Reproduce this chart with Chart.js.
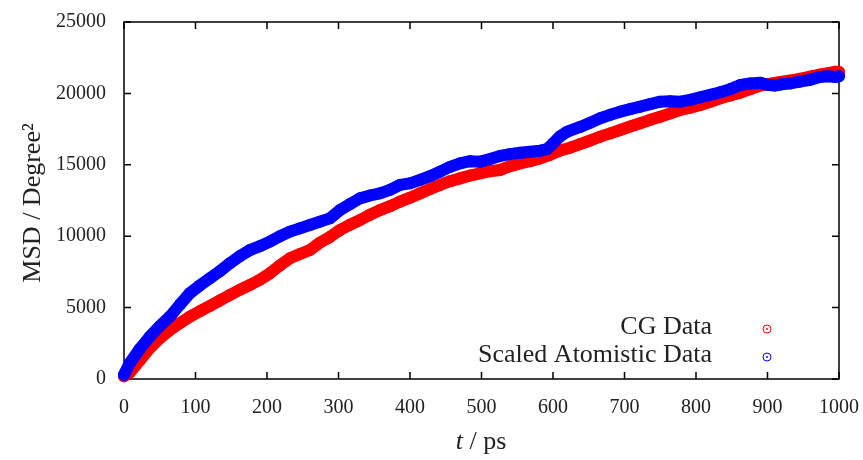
<!DOCTYPE html>
<html>
<head>
<meta charset="utf-8">
<script src="https://cdn.jsdelivr.net/npm/chart.js@4/dist/chart.umd.min.js"></script>
<style>
  html, body { margin: 0; padding: 0; background: #fff; }
  #wrap { width: 863px; height: 460px; }
</style>
</head>
<body>
<div id="wrap"><canvas id="msdChart" width="863" height="460"></canvas></div>
<script>
const FONT = '"Liberation Serif", "DejaVu Serif", serif';

// CG data (t in ps, MSD in degree^2)
const cgTime = [0, 8, 22, 36, 50, 64, 78, 92, 106, 120, 134, 148, 162, 176, 190, 204, 218, 232, 246, 260,
  274, 288, 302, 316, 330, 344, 358, 372, 386, 400, 414, 428, 442, 456, 470, 484, 498, 512, 526, 540,
  554, 568, 582, 596, 610, 624, 638, 652, 666, 680, 694, 708, 722, 736, 750, 764, 778, 792, 806, 820,
  834, 848, 862, 876, 890, 904, 918, 932, 945, 960, 973, 985, 995, 1000];
const cgMsd = [200, 450, 1300, 2150, 2850, 3430, 3900, 4360, 4750, 5110, 5500, 5880, 6250, 6580, 6950, 7400, 7950, 8450, 8750, 9030,
  9550, 9950, 10430, 10800, 11130, 11500, 11830, 12100, 12420, 12700, 13000, 13300, 13590, 13850, 14050, 14250, 14400, 14550, 14640, 14900,
  15100, 15250, 15450, 15700, 16000, 16200, 16450, 16700, 16970, 17200, 17440, 17680, 17910, 18150, 18370, 18600, 18840, 19000, 19190, 19420,
  19660, 19850, 20050, 20300, 20550, 20680, 20800, 20900, 21020, 21180, 21320, 21420, 21520, 21500];

// Scaled atomistic data
const atTime = [0, 8, 22, 36, 50, 64, 78, 92, 106, 120, 134, 148, 162, 176, 190, 204, 218, 232, 246, 260,
  274, 288, 302, 316, 330, 344, 358, 372, 386, 400, 414, 428, 442, 456, 470, 484, 498, 512, 526, 540,
  554, 568, 582, 592, 600, 610, 620, 638, 652, 666, 680, 694, 708, 722, 736, 750, 764, 778, 792, 806,
  820, 834, 848, 862, 876, 890, 900, 910, 918, 932, 945, 960, 973, 985, 995, 1000];
const atMsd = [300, 1100, 2100, 2960, 3700, 4360, 5200, 6000, 6550, 7050, 7550, 8100, 8600, 9030, 9300, 9620, 10000, 10320, 10550, 10780,
  11020, 11250, 11830, 12250, 12650, 12850, 13000, 13250, 13590, 13700, 13940, 14200, 14520, 14850, 15100, 15250, 15220, 15400, 15620, 15750,
  15850, 15920, 15990, 16100, 16500, 17000, 17320, 17650, 17950, 18260, 18500, 18720, 18900, 19070, 19250, 19420, 19450, 19420, 19550, 19730,
  19900, 20080, 20300, 20590, 20700, 20750, 20600, 20550, 20620, 20700, 20820, 20950, 21150, 21200, 21150, 21200];

const seriesLabels = ['CG Data', 'Scaled Atomistic Data'];
const seriesColors = ['#ff0000', '#0000ff'];

const xTicks = [0, 100, 200, 300, 400, 500, 600, 700, 800, 900, 1000];
const yTicks = [0, 5000, 10000, 15000, 20000, 25000];

function toPoints(xs, ys) {
  return xs.map((x, i) => ({ x: x, y: ys[i] }));
}

// frame with inward ticks on all four sides, like gnuplot
const framePlugin = {
  id: 'frame',
  beforeDatasetsDraw(chart) {
    const ctx = chart.ctx;
    const a = chart.chartArea;
    const xs = chart.scales.x;
    const ys = chart.scales.y;
    const len = 7;
    ctx.save();
    ctx.strokeStyle = '#000';
    ctx.lineWidth = 1.5;
    ctx.beginPath();
    xTicks.forEach(v => {
      const px = xs.getPixelForValue(v);
      ctx.moveTo(px, a.bottom); ctx.lineTo(px, a.bottom - len);
      ctx.moveTo(px, a.top); ctx.lineTo(px, a.top + len);
    });
    yTicks.forEach(v => {
      const py = ys.getPixelForValue(v);
      ctx.moveTo(a.left, py); ctx.lineTo(a.left + len, py);
      ctx.moveTo(a.right, py); ctx.lineTo(a.right - len, py);
    });
    ctx.stroke();
    ctx.strokeRect(a.left, a.top, a.right - a.left, a.bottom - a.top);
    ctx.restore();
  },
  afterDraw(chart) {
    const ctx = chart.ctx;
    ctx.save();
    ctx.fillStyle = '#222';

    // y title
    ctx.save();
    ctx.translate(33, 203);
    ctx.rotate(-Math.PI / 2);
    ctx.textAlign = 'center';
    ctx.textBaseline = 'middle';
    ctx.font = '26px ' + FONT;
    ctx.fillText('MSD / Degree\u00b2', 0, 0);
    ctx.restore();

    // x title, italic t
    ctx.textBaseline = 'middle';
    ctx.textAlign = 'left';
    ctx.font = 'italic 26px ' + FONT;
    const tW = ctx.measureText('t').width;
    ctx.font = '26px ' + FONT;
    const restW = ctx.measureText(' / ps').width;
    const x0 = 481 - (tW + restW) / 2;
    ctx.font = 'italic 26px ' + FONT;
    ctx.fillText('t', x0, 442);
    ctx.font = '26px ' + FONT;
    ctx.fillText(' / ps', x0 + tW, 442);

    // legend
    const rows = [327, 355];
    ctx.textAlign = 'right';
    seriesLabels.forEach((lab, i) => {
      ctx.fillStyle = '#222';
      ctx.font = '26px ' + FONT;
      ctx.fillText(lab, 712, rows[i]);
      ctx.strokeStyle = seriesColors[i];
      ctx.fillStyle = seriesColors[i];
      ctx.lineWidth = 1;
      ctx.beginPath();
      ctx.arc(767, rows[i] + 2, 4, 0, Math.PI * 2);
      ctx.stroke();
      ctx.beginPath();
      ctx.arc(767, rows[i] + 2, 0.9, 0, Math.PI * 2);
      ctx.fill();
    });
    ctx.restore();
  }
};

new Chart(document.getElementById('msdChart'), {
  type: 'line',
  data: {
    datasets: [
      {
        label: seriesLabels[1],
        data: toPoints(atTime, atMsd),
        borderColor: seriesColors[1],
        backgroundColor: seriesColors[1],
        borderWidth: 12,
        pointRadius: 6,
        pointBorderWidth: 0,
        borderCapStyle: 'round',
        borderJoinStyle: 'round',
        tension: 0,
        clip: false,
        order: 0
      },
      {
        label: seriesLabels[0],
        data: toPoints(cgTime, cgMsd),
        borderColor: seriesColors[0],
        backgroundColor: seriesColors[0],
        borderWidth: 12,
        pointRadius: 6,
        pointBorderWidth: 0,
        borderCapStyle: 'round',
        borderJoinStyle: 'round',
        tension: 0,
        clip: false,
        order: 1
      }
    ]
  },
  options: {
    responsive: false,
    animation: false,
    layout: { padding: { left: 0, right: 24, top: 22, bottom: 0 } },
    plugins: {
      legend: { display: false },
      tooltip: { enabled: false }
    },
    scales: {
      x: {
        type: 'linear',
        min: 0,
        max: 1000,
        afterFit: s => {
          s.height = 81;
          s.paddingLeft = 0;
          s.paddingRight = 0;
        },
        afterBuildTicks: s => { s.ticks = xTicks.map(v => ({ value: v })); },
        grid: { display: false, drawTicks: false },
        border: { display: false },
        ticks: {
          color: '#222',
          padding: 17,
          maxRotation: 0,
          font: { family: FONT, size: 20 },
          callback: v => String(v)
        }
      },
      y: {
        min: 0,
        max: 25000,
        afterFit: s => {
          s.width = 124;
          s.paddingTop = 0;
          s.paddingBottom = 0;
        },
        afterBuildTicks: s => { s.ticks = yTicks.map(v => ({ value: v })); },
        grid: { display: false, drawTicks: false },
        border: { display: false },
        ticks: {
          color: '#222',
          padding: 18,
          font: { family: FONT, size: 20 },
          callback: v => String(v)
        }
      }
    }
  },
  plugins: [framePlugin]
});
</script>
</body>
</html>
